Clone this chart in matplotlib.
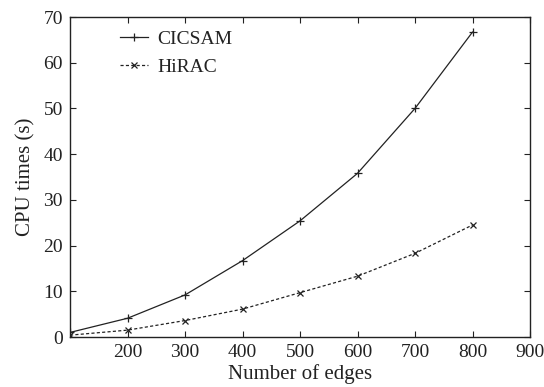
import matplotlib
matplotlib.use("Agg")
import matplotlib.pyplot as plt

edges = [100, 200, 300, 400, 500, 600, 700, 800]
cicsam = [1.0, 4.1, 9.2, 16.7, 25.4, 35.8, 50.0, 66.7]
hirac = [0.4, 1.5, 3.6, 6.1, 9.7, 13.3, 18.3, 24.5]
xticks = [200, 300, 400, 500, 600, 700, 800, 900]
yticks = [0, 10, 20, 30, 40, 50, 60, 70]

plt.rcParams['font.family'] = ['Liberation Serif', 'DejaVu Serif']

fig = plt.figure(figsize=(5.44, 3.87), dpi=100)
ax = fig.add_axes([70/544, 1-337/387, 460/544, 320/387])

ink = '#222222'
ax.plot(edges, cicsam, color=ink, lw=0.9, marker='+', ms=5.5, mew=0.9, label='CICSAM')
ax.plot(edges, hirac, color=ink, lw=0.9, ls=(0, (2.5, 1.8)), marker='x', ms=4.5, mew=0.9, label='HiRAC')

ax.set_xlim(100, 900)
ax.set_ylim(0, 70)
ax.set_xticks(xticks)
ax.set_yticks(yticks)
ax.tick_params(direction='in', top=True, right=True, length=4, width=0.8,
               labelsize=14, pad=5, colors=ink)
for s in ax.spines.values():
    s.set_linewidth(1.0)
    s.set_color(ink)
ax.set_xlabel('Number of edges', fontsize=15, labelpad=2, color=ink)
ax.set_ylabel('CPU times (s)', fontsize=15, labelpad=6, color=ink)

leg = ax.legend(loc='upper left', frameon=False, fontsize=14, handlelength=1.45,
                handletextpad=0.5, bbox_to_anchor=(50/460 - 0.022, 0.99),
                borderaxespad=0.1, labelspacing=0.55)
for t in leg.get_texts():
    t.set_color(ink)

fig.savefig('out.png', dpi=100)
